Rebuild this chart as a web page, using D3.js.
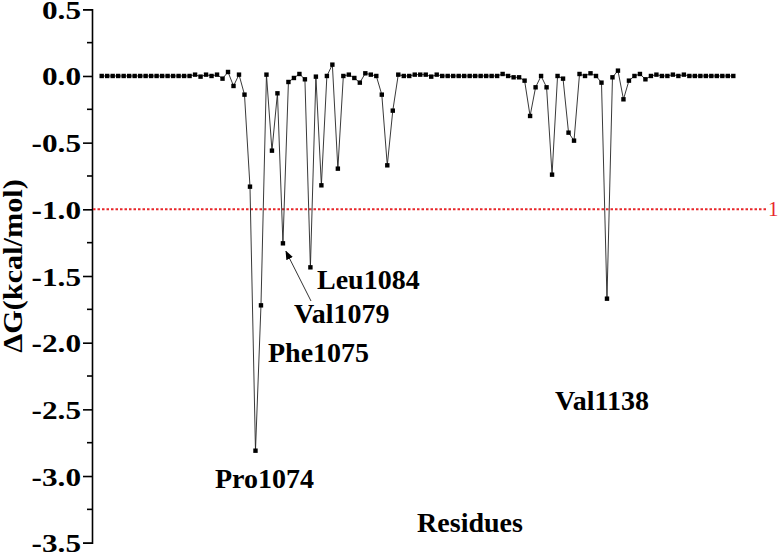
<!DOCTYPE html>
<html><head><meta charset="utf-8">
<script src="https://cdn.jsdelivr.net/npm/d3@7"></script>
<style>body{margin:0;background:#fff}svg{display:block}text{font-family:"Liberation Serif","Times New Roman",serif}</style>
</head><body><svg id="c" width="779" height="552"></svg>
<script>
const energies = [
 0,0,0,0,0,0,0,0,0,0,0,0,0,0,0,0,0,
 0.01,-0.005,0.01,0.0,0.01,-0.02,0.03,-0.075,0.01,-0.14,
 -0.83,-2.81,-1.72,0.01,-0.56,-0.13,-1.255,-0.045,-0.015,0.015,
 -0.025,-1.435,-0.005,-0.82,0.0,0.085,-0.695,0.0,0.01,-0.015,
 -0.05,0.02,0.01,0.0,-0.14,-0.67,-0.26,0.01,0.0,0.0,
 0.01,0.01,0.01,-0.005,0.01,
 0,0,0,0,0,0,0,0,0,0,0,
 0.015,0.0,-0.01,-0.01,-0.035,-0.30,-0.085,0.0,-0.085,-0.74,
 0.0,-0.02,-0.425,-0.485,0.015,0.0,0.02,0.0,-0.05,-1.67,
 -0.01,0.04,-0.175,-0.035,0.0,0.015,-0.025,0.0,0.01,0.0,
 0.0,0.01,0.0,0.01,0.0,
 0,0,0,0,0,0,0,0
];
const residues = energies.map((d,i)=>i);
const yTicks = [0.5,0.0,-0.5,-1.0,-1.5,-2.0,-2.5,-3.0,-3.5];
const cutoff = -1;
const labelNames = ["Pro1074","Phe1075","Val1079","Leu1084","Val1138"];
const labelIndex = [28,29,33,38,92];

const svg = d3.select("#c");
const x = d3.scaleLinear().domain([0,115]).range([101.7,733.3]);
const y = d3.scaleLinear().domain([-3.5,0.5]).range([542.7,9.3]);

// y axis
const ax = svg.append("g").attr("transform","translate(92,0)")
  .call(d3.axisLeft(y).tickValues(yTicks).tickSize(9).tickPadding(4));
ax.select(".domain").attr("stroke","#000").attr("stroke-width",1.6);
ax.selectAll(".tick line").attr("stroke-width",1.6);
ax.selectAll(".tick text").attr("font-size",25).attr("font-weight","bold")
  .attr("font-family","Liberation Serif").attr("transform","scale(1.25,1)").attr("x",-11/1.25)
  .attr("dy","0.36em")
  .text(d=>d3.format(".1f")(d).replace("−","-"));
// minor ticks
const minor = d3.range(-3.25,0.5,0.5);
svg.append("g").selectAll("line").data(minor).join("line")
  .attr("x1",87).attr("x2",92).attr("y1",d=>y(d)).attr("y2",d=>y(d))
  .attr("stroke","#000").attr("stroke-width",1.6);

// cutoff line
svg.append("line").attr("x1",93).attr("x2",767).attr("y1",y(cutoff)).attr("y2",y(cutoff))
  .attr("stroke","#e8262a").attr("stroke-width",2).attr("stroke-dasharray","2.5,2");
svg.append("text").attr("x",768).attr("y",y(cutoff)+7).attr("fill","#e8262a")
  .attr("font-size",21).text("1");

// series
const line = d3.line().x((d,i)=>x(residues[i])).y(d=>y(d));
svg.append("path").datum(energies).attr("d",line).attr("fill","none")
  .attr("stroke","#222").attr("stroke-width",0.9);
svg.append("g").selectAll("rect").data(energies).join("rect")
  .attr("x",(d,i)=>x(residues[i])-2.2).attr("y",d=>y(d)-2.2)
  .attr("width",4.4).attr("height",4.4).attr("fill","#000");

// annotations
const labelPos = [[215,488],[268,362],[294,323],[317,289],[555,410]];
labelNames.forEach((n,k)=>{
  svg.append("text").attr("x",labelPos[k][0]).attr("y",labelPos[k][1])
    .attr("font-size",28).attr("font-weight","bold").text(n);
});
// arrow to Val1079
const defs = svg.append("defs");
defs.append("marker").attr("id","ah").attr("viewBox","0 0 10 10").attr("refX",9).attr("refY",5)
  .attr("markerWidth",9).attr("markerHeight",9).attr("orient","auto")
  .append("path").attr("d","M0,1 L10,5 L0,9 z").attr("fill","#000");
svg.append("line").attr("x1",311).attr("y1",301).attr("x2",x(labelIndex[2])+3).attr("y2",y(energies[labelIndex[2]])+8)
  .attr("stroke","#333").attr("stroke-width",1).attr("marker-end","url(#ah)");

// axis titles
svg.append("text").attr("x",470).attr("y",532).attr("text-anchor","middle")
  .attr("font-size",28).attr("font-weight","bold").text("Residues");
svg.append("text").attr("transform","translate(22,266) rotate(-90) scale(1.12,1)").attr("text-anchor","middle")
  .attr("font-size",27).attr("font-weight","bold").text("ΔG(kcal/mol)");
</script></body></html>
